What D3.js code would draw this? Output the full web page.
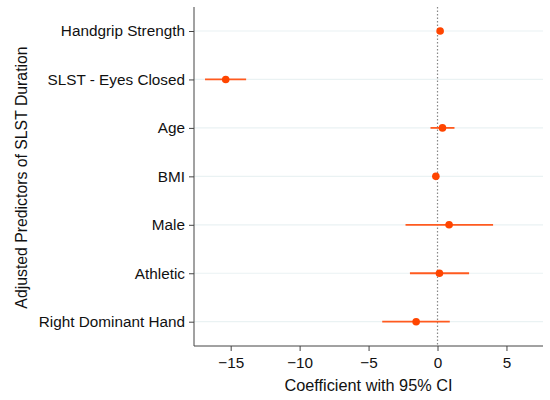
<!DOCTYPE html>
<html lang="en">
<head>
<meta charset="UTF-8">
<title>Forest plot</title>
<style>
  body { margin: 0; background: #fff; }
  svg text { font-family: "Liberation Sans", Arial, sans-serif; fill: #111; }
</style>
</head>
<body>
<div id="chart"></div>
<script src="https://cdn.jsdelivr.net/npm/d3@7"></script>
<script>
// predictors, top to bottom
var predictors = ["Handgrip Strength", "SLST - Eyes Closed", "Age", "BMI", "Male", "Athletic", "Right Dominant Hand"];
var coefs = [0.19, -15.36, 0.36, -0.12, 0.84, 0.14, -1.55];
var ciLow = [0.05, -16.86, -0.51, -0.22, -2.32, -2.0, -4.01];
var ciHigh = [0.33, -13.88, 1.23, -0.02, 4.03, 2.29, 0.89];
var xTicks = [-15, -10, -5, 0, 5];

var width = 550, height = 400;
var margin = { top: 7, right: 7, bottom: 54, left: 194 };

var svg = d3.select("#chart").append("svg")
    .attr("width", width)
    .attr("height", height);

var x = d3.scaleLinear()
    .domain([-17.66, 7.65])
    .range([margin.left, width - margin.right]);

var y = d3.scalePoint()
    .domain(predictors)
    .range([31, 321.7]);

var rows = predictors.map(function(p, i) {
    return { name: p, b: coefs[i], lo: ciLow[i], hi: ciHigh[i] };
});

// horizontal grid lines
svg.append("g").selectAll("line")
    .data(predictors)
    .enter().append("line")
    .attr("x1", margin.left)
    .attr("x2", width - margin.right)
    .attr("y1", function(d) { return y(d); })
    .attr("y2", function(d) { return y(d); })
    .attr("stroke", "#eaf2f3")
    .attr("stroke-width", 1.2);

// reference line at zero
svg.append("line")
    .attr("x1", x(0)).attr("x2", x(0))
    .attr("y1", margin.top).attr("y2", height - margin.bottom)
    .attr("stroke", "#888")
    .attr("stroke-width", 1.2)
    .attr("stroke-dasharray", "1.5,2");

// confidence intervals
svg.append("g").selectAll("line")
    .data(rows)
    .enter().append("line")
    .attr("x1", function(d) { return x(d.lo); })
    .attr("x2", function(d) { return x(d.hi); })
    .attr("y1", function(d) { return y(d.name); })
    .attr("y2", function(d) { return y(d.name); })
    .attr("stroke", "#ff5a1f")
    .attr("stroke-width", 1.8);

// point estimates
svg.append("g").selectAll("circle")
    .data(rows)
    .enter().append("circle")
    .attr("cx", function(d) { return x(d.b); })
    .attr("cy", function(d) { return y(d.name); })
    .attr("r", 3.8)
    .attr("fill", "#ff4500");

// axes
var xAxis = svg.append("g")
    .attr("transform", "translate(0," + (height - margin.bottom) + ")")
    .call(d3.axisBottom(x).tickValues(xTicks).tickSize(5).tickPadding(6)
        .tickFormat(function(d) { return d < 0 ? "\u2212" + Math.abs(d) : d; }));
xAxis.select(".domain").attr("stroke", "#444")
    .attr("d", "M" + margin.left + ",0H" + (width - margin.right));
xAxis.selectAll(".tick line").attr("stroke", "#444");
xAxis.selectAll("text").style("font-size", "15.3px");

var yAxis = svg.append("g")
    .attr("transform", "translate(" + margin.left + ",0)")
    .call(d3.axisLeft(y).tickSize(5).tickPadding(4));
yAxis.select(".domain").attr("stroke", "#444")
    .attr("d", "M0," + margin.top + "V" + (height - margin.bottom));
yAxis.selectAll(".tick line").attr("stroke", "#444");
yAxis.selectAll("text").style("font-size", "15.3px");

// axis titles
svg.append("text")
    .attr("x", (margin.left + width - margin.right) / 2)
    .attr("y", 391)
    .attr("text-anchor", "middle")
    .style("font-size", "16.3px")
    .text("Coefficient with 95% CI");

svg.append("text")
    .attr("transform", "translate(27," + ((margin.top + height - margin.bottom) / 2 + 1) + ") rotate(-90)")
    .attr("text-anchor", "middle")
    .style("font-size", "15.8px")
    .text("Adjusted Predictors of SLST Duration");
</script>
</body>
</html>
